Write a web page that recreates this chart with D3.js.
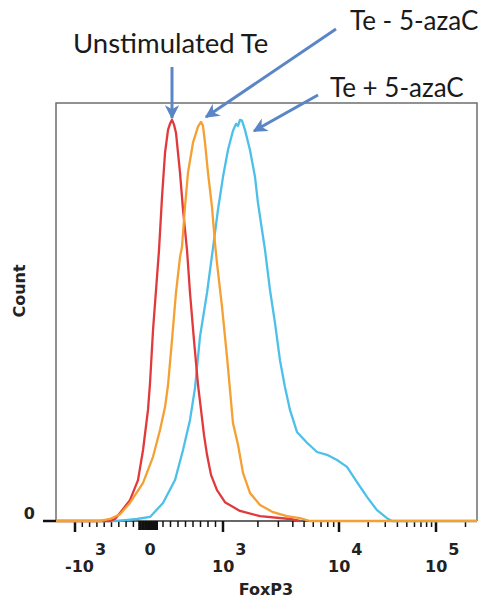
<!DOCTYPE html>
<html><head><meta charset="utf-8">
<script src="https://cdn.jsdelivr.net/npm/d3@7"></script>
<style>body{margin:0;background:#fff}</style></head>
<body><svg id="c" width="483" height="598"></svg>
<script>
// ---- data (FoxP3 intensity, count as % of max) ----
const seriesNames = ["Unstimulated Te", "Te - 5-azaC", "Te + 5-azaC"];
const redX = [-1260,-521,-452,-384,-247,-137,-68,0,27,67,120,147,187,227,267,293,320,347,373,427,467,520,560,613,667,707,747,787,840,920,1040,1401,2084,3780,4610];
const redY = [0,0,0.5,2.0,5.2,10.2,17.7,27.7,34.4,47.6,60.8,67.6,80.8,91.8,97.5,99,100,98.8,96.8,86.8,77.6,67.6,56.9,45.1,33.9,27.7,21.4,16.5,11.5,7.7,4.7,2.5,1.2,0.5,0];
const orangeX = [-1260,-658,-521,-384,-247,-68,67,160,227,267,320,373,427,453,493,533,600,667,707,733,760,800,853,893,920,987,1083,1149,1219,1347,1487,1708,2084,2700,3560,4610,5620,262144];
const orangeY = [0,0,0.5,1.7,4.5,9.5,16.0,22.7,28.4,33.9,45.1,56.9,65.8,68.3,78.3,86.8,94.3,98.3,99.5,98.5,94.3,86.8,78.3,69.3,64.3,53.4,40.9,32.7,24.4,19.0,12.0,7.0,4.0,2.2,1.2,0.7,0,0];
const blueX = [-1260,-452,-315,-151,27,200,360,467,560,627,693,787,867,933,1000,1104,1219,1295,1347,1401,1458,1547,1708,1887,2002,2168,2302,2541,2806,3098,3420,3780,4340,5300,6460,7880,9610,12090,15330,19430,24640,31240,35200,262144];
const blueY = [0,0,0.2,0.5,1.0,4.5,10.2,17.7,25.2,33.2,45.9,56.9,68.1,77.6,85.8,92.5,97.3,99.0,98.5,100,99.8,97.5,92.5,85.8,79.3,72.6,67.6,57.6,49.4,40.1,33.4,27.7,22.2,19.5,17.2,16.5,15.2,13.5,9.7,6.0,2.7,0.7,0,0];

const majorTicks = [-1000, 1000, 10000, 100000];
const majorLabels = [["-10","3"],["10","3"],["10","4"],["10","5"]];
const zeroLabel = "0";
const minorTicks = [-900,-800,-700,-600,-500,-400,-300,-200,200,300,400,500,600,700,800,900,
  2000,3000,4000,5000,6000,7000,8000,9000,20000,30000,40000,50000,60000,70000,80000,90000,200000];
const zeroClusterTicks = [-120,-100,-80,-60,-40,-20,0,20,40,60,80,100,120];

// ---- scales ----
const svg = d3.select("#c");
const xLin = d3.scaleLinear().domain([-1000, 0, 1000]).range([75, 148, 223]);
const xLog = d3.scaleLog().domain([1000, 10000, 100000, 262144]).range([223, 339, 436, 477]);
const x = v => v <= 1000 ? xLin(v) : xLog(v);
const y = d3.scaleLinear().domain([0, 104.2]).range([521, 103]);
const L = 56, R = 477, T = 103, B = 521;

// frame
svg.append("path").attr("d", `M${L},${B}V${T}H${R}V${B}`)
  .attr("fill", "none").attr("stroke", "#6e6e6e").attr("stroke-width", 1.5);
svg.append("line").attr("x1", L).attr("x2", R).attr("y1", B).attr("y2", B)
  .attr("stroke", "#333").attr("stroke-width", 1.5);

// y tick & label
svg.append("line").attr("x1", 43).attr("x2", L).attr("y1", y(0)).attr("y2", y(0))
  .attr("stroke", "#111").attr("stroke-width", 2.5);
svg.append("text").attr("x", 35).attr("y", y(0) - 2).attr("text-anchor", "end")
  .attr("font-family", "DejaVu Sans").attr("font-weight", "bold").attr("font-size", 16)
  .attr("fill", "#222").text(zeroLabel);
svg.append("text").attr("transform", "translate(25,291) rotate(-90)").attr("text-anchor", "middle")
  .attr("font-family", "DejaVu Sans").attr("font-weight", "bold").attr("font-size", 16)
  .attr("fill", "#222").text("Count");

// x ticks
const tg = svg.append("g").attr("stroke", "#111");
tg.selectAll(".mj").data(majorTicks).join("line").attr("x1", d => x(d)).attr("x2", d => x(d))
  .attr("y1", B).attr("y2", B + 11).attr("stroke-width", 2.5);
tg.selectAll(".mn").data(minorTicks).join("line").attr("x1", d => x(d)).attr("x2", d => x(d))
  .attr("y1", B).attr("y2", B + 6).attr("stroke-width", 1.5);
tg.selectAll(".zc").data(zeroClusterTicks).join("line").attr("x1", d => x(d)).attr("x2", d => x(d))
  .attr("y1", B).attr("y2", B + 9).attr("stroke-width", 2);

// x tick labels
const lab = svg.append("g").attr("font-family", "DejaVu Sans").attr("font-weight", "bold")
  .attr("font-size", 16).attr("fill", "#222");
majorTicks.forEach((v, i) => {
  const [base, exp] = majorLabels[i];
  const t = lab.append("text").attr("x", x(v) - (base.length === 3 ? 10 : 11)).attr("y", 572);
  t.append("tspan").text(base);
  t.append("tspan").attr("dx", 1).attr("dy", -17).text(exp);
});
lab.append("text").attr("x", x(0) + 2).attr("y", 555).attr("text-anchor", "middle").text(zeroLabel);
svg.append("text").attr("x", 266).attr("y", 595).attr("text-anchor", "middle")
  .attr("font-family", "DejaVu Sans").attr("font-weight", "bold").attr("font-size", 16)
  .attr("fill", "#222").text("FoxP3");

// curves
const line = d3.line().x(d => x(d[0])).y(d => y(d[1]));
const series = [
  { xs: blueX, ys: blueY, color: "#4cc0ea" },
  { xs: redX, ys: redY, color: "#e03a3c" },
  { xs: orangeX, ys: orangeY, color: "#f5a032" }
];
series.forEach(s => {
  svg.append("path").attr("d", line(d3.zip(s.xs, s.ys))).attr("fill", "none")
    .attr("stroke", s.color).attr("stroke-width", 2.3).attr("stroke-linejoin", "round");
});

// annotations
const defs = svg.append("defs");
defs.append("marker").attr("id", "ah").attr("viewBox", "0 0 10 10").attr("refX", 9).attr("refY", 5)
  .attr("markerWidth", 4.8).attr("markerHeight", 4.8).attr("orient", "auto")
  .append("path").attr("d", "M0,0L10,5L0,10L3,5Z").attr("fill", "#5a86c6");
const arrows = [
  { x1: 172, y1: 67, x2: 172, y2: 118 },
  { x1: 336, y1: 29, x2: 206, y2: 117 },
  { x1: 318, y1: 95, x2: 254, y2: 131 }
];
arrows.forEach(a => svg.append("line").attr("x1", a.x1).attr("y1", a.y1).attr("x2", a.x2).attr("y2", a.y2)
  .attr("stroke", "#5a86c6").attr("stroke-width", 3).attr("marker-end", "url(#ah)"));
const annPos = [[73, 53], [350, 30], [330, 97]];
const annSize = [27.5, 26, 26];
seriesNames.forEach((n, i) => svg.append("text").attr("x", annPos[i][0]).attr("y", annPos[i][1])
  .attr("font-family", "Lato").attr("font-size", annSize[i]).attr("fill", "#1a1a1a").text(n));
</script></body></html>
